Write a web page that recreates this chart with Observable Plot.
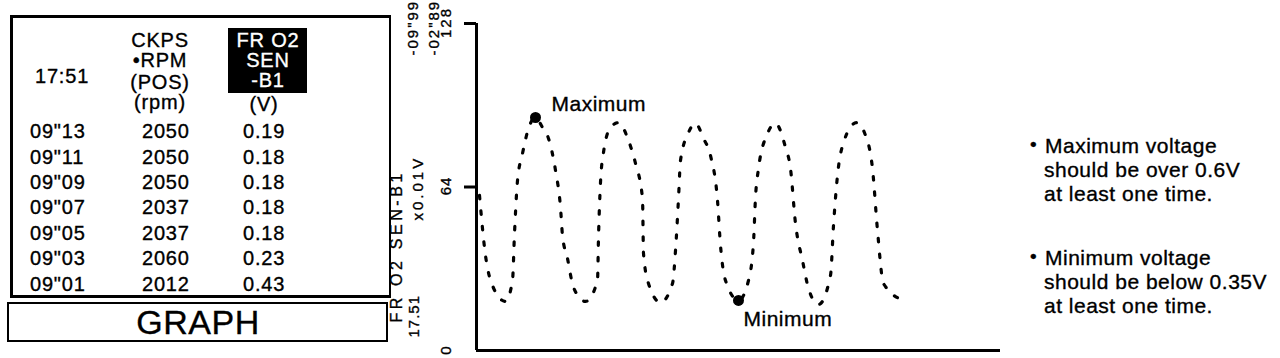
<!DOCTYPE html>
<html><head><meta charset="utf-8">
<script src="https://cdn.jsdelivr.net/npm/d3@7"></script>
<script src="https://cdn.jsdelivr.net/npm/@observablehq/plot@0.6"></script>
<style>
body{margin:0;background:#fff;}
#wrap{position:relative;width:1280px;height:358px;overflow:hidden;font-family:"Liberation Sans",Arial,sans-serif;color:#000;background:#fff;}
#chart{position:absolute;left:0;top:0;}
.abs{position:absolute;white-space:nowrap;line-height:1;-webkit-text-stroke:0.35px currentColor;}
.box{position:absolute;box-sizing:border-box;border:2px solid #000;}
</style></head>
<body><div id="wrap"><div id="chart"></div></div>
<script>
// ---- data ----
const sampleTime = [0.6,1.8,3.2,5.8,7.2,7.6,8.2,9.2,10.4,11.8,13.2,14.4,15.8,16.8,17.2,18.2,19.4,21.8,24.2,24.4,24.8,25.4,26.8,28.4,30.4,31.8,33.2,33.4,34.4,36.8,39.2,39.8,40.4,40.8,42.4,43.8,45.4,46.8,48.2,48.8,49.8,52.4,54.4,55.4,55.8,56.4,58.2,59.8,61.8,62.8,63.8,65.2,66.4,68.4,70.8,71.4,72.2,73.4,76.0,77.8,79.2,80.2,81.4,85.4];
const o2Value = [60.7,37.2,25.4,19.2,27.4,45.8,66.5,77.1,86.9,91.2,87.3,83.0,70.5,56.0,45.0,36.0,24.7,19.2,27.4,44.2,65.8,77.5,87.3,89.2,82.2,73.2,59.5,38.0,26.2,18.8,26.2,39.1,59.5,74.4,85.3,88.9,83.0,76.3,58.7,41.1,27.4,19.6,27.4,42.3,59.9,71.2,84.9,88.9,79.5,71.2,49.7,35.2,24.3,18.0,29.4,48.9,68.5,81.4,89.2,84.2,71.2,47.0,26.2,19.6];
const markerLabels = ["Maximum","Minimum"];
const markerTimes = [11.8,52.4];
const yTicks = [0,64,128];
const yAxisTitle = "FR O2 SEN-B1";
const yAxisUnit = "x0.01V";
const clockLabel = "17.51";
const rangeTop1 = '-09"99';
const rangeTop2 = '-02"89';

const headerTime = "17:51";
const rpmHeader = ["CKPS","•RPM","(POS)","(rpm)"];
const voltHeader = ["FR O2","SEN","-B1"];
const voltUnit = "(V)";
const rowTimes = ['09"13','09"11','09"09','09"07','09"05','09"03','09"01'];
const rowRpm = ["2050","2050","2050","2037","2037","2060","2012"];
const rowVolt = ["0.19","0.18","0.18","0.18","0.18","0.23","0.43"];
const buttonLabel = "GRAPH";
const noteMax = ["Maximum voltage","should be over 0.6V","at least one time."];
const noteMin = ["Minimum voltage","should be below 0.35V","at least one time."];

// ---- chart ----
const series = sampleTime.map((t,i)=>({t, v:o2Value[i]}));
const markers = markerLabels.map((label,i)=>{
  const p = series.find(d=>d.t===markerTimes[i]);
  return {label, t:p.t, v:p.v};
});
const ink = {fill:"#000"};

const plot = Plot.plot({
  width:1280, height:358,
  marginLeft:476, marginRight:280, marginTop:23, marginBottom:8,
  x:{domain:[0,104.8], axis:null},
  y:{domain:[0,128], label:null},
  style:{fontFamily:"'Liberation Sans', Arial, sans-serif", background:"transparent", color:"#000"},
  marks:[
    Plot.ruleX([0],{strokeWidth:3}),
    Plot.ruleY([0],{strokeWidth:3}),
    Plot.axisY({ticks:[64,128], tickSize:12, tickFormat:()=>"", strokeWidth:3}),
    Plot.text(yTicks,{y:d=>d, text:d=>String(d), frameAnchor:"left", dx:-30, dy:-1, rotate:-90, textAnchor:"middle", fontSize:15, ...ink}),
    Plot.text([yAxisTitle],{frameAnchor:"bottom-left", dx:-75, dy:-28, rotate:-90, textAnchor:"start", fontSize:16, ...ink}),
    Plot.text([clockLabel],{frameAnchor:"bottom-left", dx:-58, dy:-13, rotate:-90, textAnchor:"start", fontSize:15, ...ink}),
    Plot.text([yAxisUnit],{frameAnchor:"bottom-left", dx:-54, dy:-130, rotate:-90, textAnchor:"start", fontSize:15, ...ink}),
    Plot.text([rangeTop1],{frameAnchor:"top-left", dx:-69, dy:32, rotate:-90, textAnchor:"start", fontSize:15, ...ink}),
    Plot.text([rangeTop2],{frameAnchor:"top-left", dx:-48, dy:32, rotate:-90, textAnchor:"start", fontSize:15, ...ink}),
    Plot.line(series,{x:"t", y:"v", curve:"monotone-x", strokeWidth:3.2, strokeDasharray:"3.5 12"}),
    Plot.dot(markers,{x:"t", y:"v", r:5.5, fill:"#000", stroke:"none"}),
    Plot.text([markers[0]],{x:"t", y:"v", text:"label", textAnchor:"start", dx:16, dy:-13, fontSize:21, ...ink}),
    Plot.text([markers[1]],{x:"t", y:"v", text:"label", textAnchor:"start", dx:5, dy:19, fontSize:21, ...ink})
  ]
});
document.getElementById("chart").appendChild(plot);
const spacing = new Map([
  [yAxisTitle,"3.6px"],[yAxisUnit,"3px"],[clockLabel,"1px"],[rangeTop1,"2px"],[rangeTop2,"2px"],
  ["0","2px"],["64","1px"],["128","2px"],["Maximum","0.5px"],["Minimum","0.5px"]
]);
d3.select(plot).selectAll("text").each(function(){
  const s = spacing.get(this.textContent);
  if (s) this.style.letterSpacing = s;
  this.style.stroke = "#000";
  this.style.strokeWidth = "0.35px";
});

// ---- table panel ----
const wrap = document.getElementById("wrap");
function place(text, x, cy, fs, opt={}){
  const d = document.createElement("div");
  d.className = "abs";
  d.textContent = text;
  d.style.fontSize = fs+"px";
  d.style.top = (cy - 0.49*fs) + "px";
  d.style.left = x + "px";
  d.style.letterSpacing = (opt.ls ?? 0.8) + "px";
  if (opt.center) d.style.transform = "translateX(-50%)";
  if (opt.color) d.style.color = opt.color;
  wrap.appendChild(d);
  return d;
}
function box(l,t,w,h,css={}){
  const d = document.createElement("div");
  d.className = "box";
  Object.assign(d.style,{left:l+"px",top:t+"px",width:w+"px",height:h+"px"},css);
  wrap.appendChild(d);
  return d;
}
box(10,15,381,283,{borderWidth:"3px 2px 3px 3px"});
box(7,302,381,40,{borderWidth:"2.5px"});
box(228,28,79,65,{background:"#000",border:"none"});

place(headerTime,35,76,20);
rpmHeader.forEach((s,i)=>place(s,160,[40,60,82,102][i],20,{center:true}));
voltHeader.forEach((s,i)=>place(s,268,[40,60,80][i],20,{center:true,color:"#fff"}));
place(voltUnit,264,104,20,{center:true});
rowTimes.forEach((s,i)=>{
  const cy = 131 + 25.4*i;
  place(s,30,cy,20);
  place(rowRpm[i],142,cy,20);
  place(rowVolt[i],243,cy,20);
});
place(buttonLabel,198,322,34,{center:true,ls:0.5});

// ---- notes ----
function note(lines, b0){
  place("•",1030,b0-9,19,{ls:0});
  lines.forEach((s,i)=>{
    const b = b0 + 24*i;
    place(s, i===0?1045:1044, b-7.5, 21, {ls:0.5});
  });
}
note(noteMax,153);
note(noteMin,265);
</script>
</body></html>
